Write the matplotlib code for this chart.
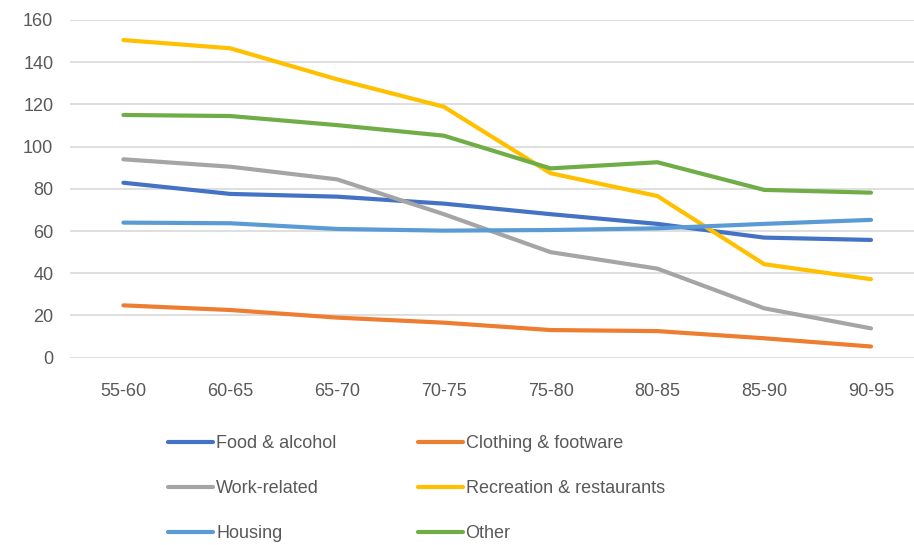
import matplotlib.pyplot as plt

# Spending index by age band
age_bands = ["55-60", "60-65", "65-70", "70-75", "75-80", "80-85", "85-90", "90-95"]

food_alcohol = [82.9, 77.6, 76.3, 73.0, 68.0, 63.4, 56.9, 55.8]
clothing_footware = [24.8, 22.6, 19.0, 16.6, 13.1, 12.6, 9.2, 5.3]
work_related = [94.0, 90.5, 84.5, 68.0, 50.0, 42.2, 23.4, 13.9]
recreation_restaurants = [150.5, 146.6, 131.9, 118.9, 87.4, 76.6, 44.3, 37.2]
housing = [64.0, 63.7, 61.0, 60.2, 60.5, 61.3, 63.4, 65.3]
other = [115.0, 114.5, 110.2, 105.2, 89.7, 92.6, 79.5, 78.2]

series = [
    ("Food & alcohol", food_alcohol, "#4472C4"),
    ("Clothing & footware", clothing_footware, "#ED7D31"),
    ("Work-related", work_related, "#A5A5A5"),
    ("Recreation & restaurants", recreation_restaurants, "#FFC000"),
    ("Housing", housing, "#5B9BD5"),
    ("Other", other, "#70AD47"),
]

plt.rcParams["font.family"] = ["Liberation Sans", "DejaVu Sans"]
TEXT = "#595959"

W, H = 914, 545
fig = plt.figure(figsize=(W / 100, H / 100), dpi=100)
left, right, top, bottom = 70, 914, 20, 357.7
ax = fig.add_axes([left / W, 1 - bottom / H, (right - left) / W, (bottom - top) / H])

x = list(range(len(age_bands)))
lines = []
for name, vals, color in series:
    ln, = ax.plot(x, vals, color=color, lw=3, solid_capstyle="round",
                  solid_joinstyle="round", label=name, zorder=3)
    lines.append(ln)

ax.set_ylim(0, 160)
ax.set_yticks(range(0, 161, 20))
ax.set_xlim(-0.5, -0.5 + (right - left) / 106.8)
ax.set_xticks(x)
ax.set_xticklabels(age_bands)
ax.grid(axis="y", color="#D9D9D9", lw=1.2, zorder=0)
for s in ax.spines.values():
    s.set_visible(False)
ax.tick_params(length=0, labelsize=13, colors=TEXT)
ax.tick_params(axis="x", pad=18)
ax.tick_params(axis="y", pad=12)

# legend fills column-first, so reorder to read row by row
order = [0, 2, 4, 1, 3, 5]
fig.legend([lines[i] for i in order], [series[i][0] for i in order],
           loc="upper left", bbox_to_anchor=(152 / W, 1 - 419 / H), ncol=2,
           frameon=False, fontsize=13, handlelength=2.5, handletextpad=0.15,
           columnspacing=4.5, labelspacing=1.55, labelcolor=TEXT)

fig.savefig("out.png", dpi=100)
